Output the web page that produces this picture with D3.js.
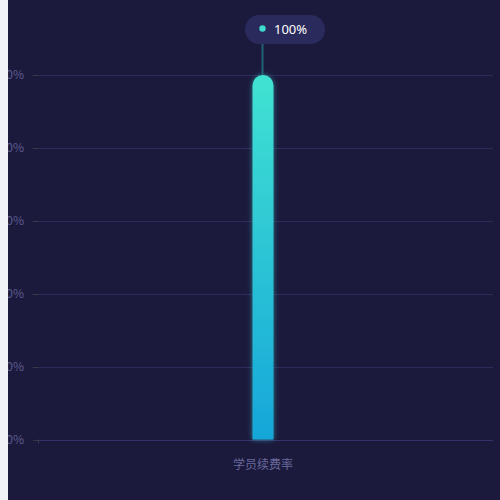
<!DOCTYPE html>
<html>
<head>
  <meta charset="utf-8">
  <script src="https://d3js.org/d3.v7.min.js"></script>
  <style>
    html, body { margin: 0; padding: 0; background: #f0f2f8; }
    #chart { position: absolute; left: 8px; top: 0; width: 492px; height: 500px; background: #1b1a3d; }
    svg { display: block; }
  </style>
</head>
<body>
  <div id="chart"></div>
  <script>
    // data
    var categories = ["学员续费率"];
    var values = [100];
    var tickValues = [0, 20, 40, 60, 80, 100];

    var width = 492, height = 500;
    // svg coords (page x minus 8)
    var margin = { top: 75, right: 7, bottom: 60, left: 25 };

    var svg = d3.select("#chart").append("svg")
      .attr("width", width)
      .attr("height", height);

    var defs = svg.append("defs");
    var grad = defs.append("linearGradient")
      .attr("id", "barGrad")
      .attr("x1", 0).attr("y1", 0).attr("x2", 0).attr("y2", 1);
    grad.append("stop").attr("offset", "0%").attr("stop-color", "#41e2d2");
    grad.append("stop").attr("offset", "100%").attr("stop-color", "#16a6d9");

    var glow = defs.append("filter").attr("id", "glow")
      .attr("x", "-60%").attr("y", "-10%").attr("width", "220%").attr("height", "120%");
    glow.append("feDropShadow")
      .attr("dx", 0).attr("dy", 0).attr("stdDeviation", 2.5)
      .attr("flood-color", "#3dd8d0").attr("flood-opacity", 0.55);

    var x = d3.scaleBand()
      .domain(categories)
      .range([margin.left, width - margin.right]);

    var y = d3.scaleLinear()
      .domain([0, 100])
      .range([height - margin.bottom - 0.5, margin.top]);

    // grid lines
    svg.append("g")
      .selectAll("line")
      .data(tickValues)
      .enter()
      .append("line")
      .attr("x1", margin.left + 5)
      .attr("x2", width - margin.right)
      .attr("y1", d => Math.round(y(d)) + 0.5)
      .attr("y2", d => Math.round(y(d)) + 0.5)
      .attr("stroke", d => d === 0 ? "#33336a" : "#2c2b5a")
      .attr("stroke-width", 1);

    // small ticks on left
    svg.append("g")
      .selectAll("line")
      .data(tickValues)
      .enter()
      .append("line")
      .attr("x1", margin.left)
      .attr("x2", margin.left + 5)
      .attr("y1", d => Math.round(y(d)) + 0.5)
      .attr("y2", d => Math.round(y(d)) + 0.5)
      .attr("stroke", "#3a3a48");

    // y labels
    svg.append("g")
      .selectAll("text")
      .data(tickValues)
      .enter()
      .append("text")
      .attr("x", margin.left - 9)
      .attr("y", d => y(d))
      .attr("dy", "0.35em")
      .attr("text-anchor", "end")
      .attr("font-family", "Noto Sans CJK SC, sans-serif")
      .attr("font-size", 12)
      .attr("fill", "#5d5b8e")
      .text(d => d + "%");

    // bottom tick
    svg.append("line")
      .attr("x1", margin.left + 5.5).attr("x2", margin.left + 5.5)
      .attr("y1", y(0)).attr("y2", y(0) + 4)
      .attr("stroke", "#3a3a48");

    // x labels
    svg.append("g")
      .selectAll("text")
      .data(categories)
      .enter()
      .append("text")
      .attr("x", d => x(d) + x.bandwidth() / 2)
      .attr("y", y(0) + 29)
      .attr("text-anchor", "middle")
      .attr("font-family", "Noto Sans CJK SC, sans-serif")
      .attr("font-size", 12)
      .attr("fill", "#6a689c")
      .text(d => d);

    // bars
    var barW = 21;
    var r = barW / 2;
    function barPath(cx, top, bottom) {
      var l = cx - barW / 2, rr = cx + barW / 2;
      return "M" + l + "," + bottom +
        "L" + l + "," + (top + r) +
        "A" + r + "," + r + " 0 0 1 " + rr + "," + (top + r) +
        "L" + rr + "," + bottom + "Z";
    }

    svg.append("g")
      .selectAll("path")
      .data(values)
      .enter()
      .append("path")
      .attr("d", (d, i) => barPath(x(categories[i]) + x.bandwidth() / 2, y(d), y(0)))
      .attr("fill", "url(#barGrad)")
      .attr("filter", "url(#glow)");

    // tooltip
    var cx = x(categories[0]) + x.bandwidth() / 2;
    var tipTop = 15, tipH = 29;
    svg.append("line")
      .attr("x1", cx - 0.5).attr("x2", cx - 0.5)
      .attr("y1", tipTop + tipH).attr("y2", y(values[0]))
      .attr("stroke", "#1f6275")
      .attr("stroke-width", 2);

    svg.append("rect")
      .attr("x", cx - 18).attr("y", tipTop)
      .attr("width", 80).attr("height", tipH)
      .attr("rx", tipH / 2)
      .attr("fill", "#2b2a5c");

    svg.append("circle")
      .attr("cx", cx - 0.5).attr("cy", tipTop + 13.5)
      .attr("r", 3.2)
      .attr("fill", "#3ddccf");

    svg.append("text")
      .attr("x", cx + 11).attr("y", tipTop + 14)
      .attr("dy", "0.35em")
      .attr("font-family", "Noto Sans, sans-serif")
      .attr("font-size", 13)
      .attr("fill", "#ffffff")
      .text(values[0] + "%");
  </script>
</body>
</html>
